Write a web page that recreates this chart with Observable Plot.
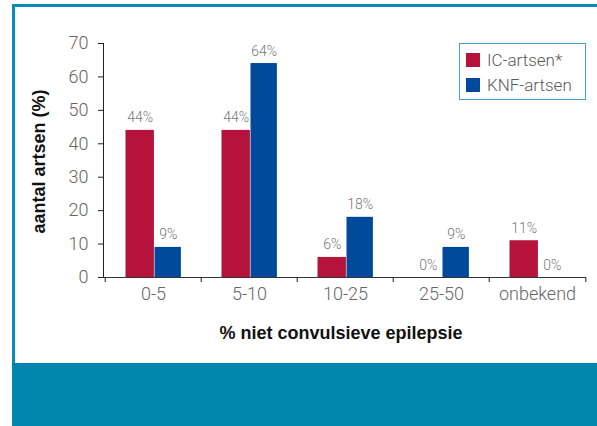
<!DOCTYPE html>
<html>
<head>
<meta charset="utf-8">
<script src="https://cdn.jsdelivr.net/npm/d3@7"></script>
<script src="https://cdn.jsdelivr.net/npm/@observablehq/plot@0.6"></script>
<style>
  body { margin: 0; background: #fff; }
  #wrap { position: relative; width: 597px; height: 426px; overflow: hidden; background: #fff; }
  #chart { position: absolute; left: 0; top: 0; }
  .edge-top { position: absolute; left: 12px; top: 4px; width: 585px; height: 3px; background: #0b8ab5; }
  .edge-left { position: absolute; left: 12px; top: 4px; width: 3px; height: 360px; background: #0b8ab5; }
  .band { position: absolute; left: 12px; top: 363px; width: 585px; height: 63px; background: #0086ad; }
  .legend { position: absolute; left: 459px; top: 43px; width: 125px; height: 55px; border: 1px solid #3ea5c8; background: #fff; }
  .legend .row { position: absolute; left: 6px; height: 18px; display: flex; align-items: center;
    font-family: Roboto, "Liberation Sans", sans-serif; font-weight: 300; font-size: 17px; color: #5a5a5a; }
  .legend .sw { width: 14px; height: 14px; margin-right: 7px; }
</style>
</head>
<body>
<div id="wrap">
  <div class="edge-top"></div>
  <div class="edge-left"></div>
  <div class="band"></div>
  <div id="chart"></div>
  <div class="legend" id="legend"></div>
</div>
<script>
// Share of physicians per range of non-convulsive epilepsy (%)
const categories = ["0-5", "5-10", "10-25", "25-50", "onbekend"];
const icArtsen = [44, 44, 6, 0, 11];
const knfArtsen = [9, 64, 18, 9, 0];
const seriesNames = ["IC-artsen*", "KNF-artsen"];
const seriesColors = ["#b5133b", "#01499a"];
const yTicks = [0, 10, 20, 30, 40, 50, 60, 70];
const yLabel = "aantal artsen (%)";
const xLabel = "% niet convulsieve epilepsie";

const ic = categories.map((cat, i) => ({cat, value: icArtsen[i]}));
const knf = categories.map((cat, i) => ({cat, value: knfArtsen[i]}));

const W = 597, H = 426;
const mL = 103, mR = 11, mT = 43, mB = 149;
const step = (W - mL - mR) / categories.length;
const half = step / 2;
const light = "Roboto, 'Liberation Sans', sans-serif";
const bold = "'Liberation Sans', Arial, sans-serif";

// bar placement inside each category band
const redLeft = 20.5, redW = 29, blueW = 27;
const blueLeft = redLeft + redW;
const redDx = redLeft + redW / 2 - half;
const blueDx = blueLeft + blueW / 2 - half;

const pct = d => d.value + "%";

const chart = Plot.plot({
  width: W,
  height: H,
  marginLeft: mL,
  marginRight: mR,
  marginTop: mT,
  marginBottom: mB,
  style: {background: "transparent", overflow: "visible"},
  x: {type: "band", domain: categories, padding: 0, axis: null},
  y: {domain: [0, 70], axis: null},
  marks: [
    Plot.barY(ic, {x: "cat", y: "value", fill: seriesColors[0],
      insetLeft: redLeft, insetRight: step - redLeft - redW}),
    Plot.barY(knf, {x: "cat", y: "value", fill: seriesColors[1],
      insetLeft: blueLeft, insetRight: step - blueLeft - blueW}),
    Plot.text(ic, {x: "cat", y: "value", text: pct, dx: redDx, dy: -8, lineAnchor: "bottom",
      fill: "#777", fontSize: 14, fontFamily: light, fontWeight: 300}),
    Plot.text(knf, {x: "cat", y: "value", text: pct, dx: blueDx, dy: -8, lineAnchor: "bottom",
      fill: "#777", fontSize: 14, fontFamily: light, fontWeight: 300}),
    // axes
    Plot.frame({anchor: "left", stroke: "#222"}),
    Plot.ruleY([0], {stroke: "#333", insetLeft: -5}),
    Plot.axisY({ticks: yTicks, tickSize: 5, tickFormat: () => "", stroke: "#222", label: null}),
    Plot.axisY({ticks: yTicks, tickSize: 0, tickPadding: 15, fill: "#666", label: null,
      fontSize: 18, fontFamily: light, fontWeight: 300}),
    Plot.ruleX(categories, {x: d => d, dx: -half, y1: 0, y2: 0, insetBottom: -5, stroke: "#222"}),
    Plot.ruleX(categories.slice(-1), {x: d => d, dx: half, y1: 0, y2: 0, insetBottom: -5, stroke: "#222"}),
    Plot.axisX({tickSize: 0, tickPadding: 10, fill: "#666", label: null,
      fontSize: 18, fontFamily: light, fontWeight: 300}),
    // axis titles
    Plot.text([yLabel], {frameAnchor: "left", textAnchor: "middle", lineAnchor: "middle",
      rotate: -90, dx: -64, dy: 1, fill: "#111", fontSize: 18, fontWeight: "bold", fontFamily: bold}),
    Plot.text([xLabel], {frameAnchor: "bottom", textAnchor: "middle", lineAnchor: "middle",
      dx: -4, dy: 56, fill: "#111", fontSize: 18, fontWeight: "bold", fontFamily: bold})
  ]
});
document.getElementById("chart").append(chart);

// legend
const legend = document.getElementById("legend");
seriesNames.forEach((name, i) => {
  const row = document.createElement("div");
  row.className = "row";
  row.style.top = (7 + i * 25) + "px";
  const sw = document.createElement("div");
  sw.className = "sw";
  sw.style.background = seriesColors[i];
  const label = document.createElement("span");
  label.textContent = name;
  row.append(sw, label);
  legend.append(row);
});
</script>
</body>
</html>
